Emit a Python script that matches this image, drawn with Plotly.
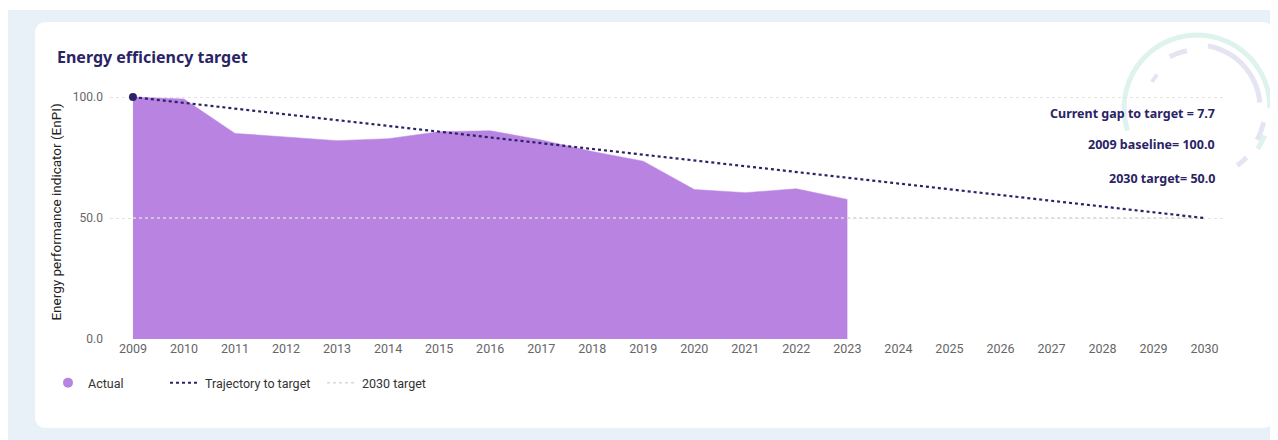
import math
import plotly.graph_objects as go

# ---------------- data ----------------
years = [2009, 2010, 2011, 2012, 2013, 2014, 2015, 2016, 2017, 2018, 2019, 2020, 2021, 2022, 2023]
actual = [100.0, 99.2, 85.0, 83.5, 82.0, 82.8, 85.7, 86.1, 82.3, 77.5, 73.5, 61.8, 60.5, 62.1, 57.7]
trajectory_years = [2009, 2030]
trajectory_values = [100.0, 50.0]
target_years = [2009, 2030]
target_values = [50.0, 50.0]
tick_years = list(range(2009, 2031))
y_ticks = [0, 50, 100]
y_tick_labels = ["0.0", "50.0", "100.0"]
notes = ["Current gap to target = 7.7", "2009 baseline= 100.0", "2030 target= 50.0"]
note_y = [93.4, 80.2, 66.5]

# ---------------- styling ----------------
W, H = 1278, 440
OFF = 8  # page body margin: figure origin sits at screen (8, 8)
ML, MR, MT, MB = 110 - OFF, W - (1226 - OFF), 85 - OFF, H - (339 - OFF)
PW, PH = W - ML - MR, H - MT - MB
PURPLE = "#b983e2"
NAVY = "#2a2366"
LIGHT = "#d9d9d9"


def px2paper(sx, sy):
    """screen pixel -> paper coords"""
    fx, fy = sx - OFF, sy - OFF
    return (fx - ML) / PW, (H - MB - fy) / PH


def P(x, y):
    a, b = px2paper(x, y)
    return f"{a:.5f},{b:.5f}"


def rect_path(x0, y0, x1, y1, r=0):
    if r == 0:
        return f"M{P(x0, y0)}L{P(x1, y0)}L{P(x1, y1)}L{P(x0, y1)}Z"
    return (f"M{P(x0 + r, y0)}L{P(x1 - r, y0)}Q{P(x1, y0)} {P(x1, y0 + r)}"
            f"L{P(x1, y1 - r)}Q{P(x1, y1)} {P(x1 - r, y1)}"
            f"L{P(x0 + r, y1)}Q{P(x0, y1)} {P(x0, y1 - r)}"
            f"L{P(x0, y0 + r)}Q{P(x0, y0)} {P(x0 + r, y0)}Z")


def arc_path(cx, cy, r, a0, a1, n=30):
    pts = []
    for i in range(n + 1):
        a = math.radians(a0 + (a1 - a0) * i / n)
        pts.append(P(cx + r * math.cos(a), cy - r * math.sin(a)))
    return "M" + "L".join(pts)


fig = go.Figure()

# Actual area
fig.add_trace(go.Scatter(
    x=years, y=actual, mode="lines", fill="tozeroy",
    line=dict(color=PURPLE, width=0.5), fillcolor=PURPLE,
    name="Actual", showlegend=False))

# 2030 target line
fig.add_trace(go.Scatter(
    x=target_years, y=target_values, mode="lines",
    line=dict(color=LIGHT, width=1.5, dash="dot"),
    name="2030 target", showlegend=False))

# Trajectory
fig.add_trace(go.Scatter(
    x=trajectory_years, y=trajectory_values, mode="lines",
    line=dict(color=NAVY, width=2.2, dash="dot"),
    name="Trajectory to target", showlegend=False))

# baseline point
fig.add_trace(go.Scatter(
    x=[years[0]], y=[actual[0]], mode="markers",
    marker=dict(color=NAVY, size=8), showlegend=False, hoverinfo="skip"))

# legend-only entries, each in its own legend so they can be placed freely
fig.add_trace(go.Scatter(x=[None], y=[None], mode="markers", legend="legend",
                         marker=dict(color=PURPLE, size=10, symbol="circle"), name="Actual"))
fig.add_trace(go.Scatter(x=[None], y=[None], mode="lines", legend="legend2",
                         line=dict(color=NAVY, width=2, dash="dot"), name="Trajectory to target"))
fig.add_trace(go.Scatter(x=[None], y=[None], mode="lines", legend="legend3",
                         line=dict(color=LIGHT, width=1.5, dash="dot"), name="2030 target"))

TEAL = "#dff3ee"
LAV = "#e4e4f2"
CX, CY = 1197, 108
shapes = [
    dict(type="path", xref="paper", yref="paper", path=rect_path(8, 10, W + 20, H + 20),
         fillcolor="#e8f1f8", line=dict(width=0), layer="below"),
    dict(type="path", xref="paper", yref="paper", path=rect_path(35, 22, 1274, 428, 12),
         fillcolor="#ffffff", line=dict(width=0), layer="below"),
    # faint watermark
    dict(type="path", xref="paper", yref="paper", path=arc_path(CX, CY, 73, 198, 0),
         line=dict(color=TEAL, width=5), layer="below"),
    dict(type="path", xref="paper", yref="paper", path=arc_path(CX, CY, 73, -22, -34),
         line=dict(color=TEAL, width=5), layer="below"),
    dict(type="path", xref="paper", yref="paper", path=arc_path(CX, CY, 63, 80, 5),
         line=dict(color=LAV, width=5), layer="below"),
    dict(type="path", xref="paper", yref="paper", path=arc_path(CX, CY, 68, -12, -28),
         line=dict(color=LAV, width=5), layer="below"),
    dict(type="path", xref="paper", yref="paper", path=arc_path(CX, CY, 70, -45, -55),
         line=dict(color=LAV, width=5), layer="below"),
    dict(type="path", xref="paper", yref="paper", path=arc_path(CX, CY, 58, 118, 100),
         line=dict(color=LAV, width=5), layer="below"),
    dict(type="path", xref="paper", yref="paper", path=arc_path(CX, CY, 52, 150, 140),
         line=dict(color=LAV, width=4), layer="below"),
]

annotations = [
    dict(text="<b>Energy efficiency target</b>", xref="paper", yref="paper",
         x=px2paper(55, 0)[0], y=px2paper(0, 57)[1], xanchor="left", yanchor="middle",
         showarrow=False, font=dict(family="Noto Sans", size=16, color=NAVY)),
]
for t, yv in zip(notes, note_y):
    annotations.append(dict(text=f"<b>{t}</b>", xref="paper", yref="y",
                            x=px2paper(1217, 0)[0], y=yv, xanchor="right", yanchor="middle",
                            showarrow=False, font=dict(family="Noto Sans", size=12.5, color=NAVY)))


def leg(sx):
    return dict(orientation="h", x=px2paper(sx, 0)[0], y=px2paper(0, 383)[1],
                xanchor="left", yanchor="middle", font=dict(size=12.5, color="#333"),
                bgcolor="rgba(0,0,0,0)", itemwidth=30)


fig.update_layout(
    width=W, height=H,
    margin=dict(l=ML, r=MR, t=MT, b=MB),
    paper_bgcolor="#ffffff", plot_bgcolor="rgba(0,0,0,0)",
    font=dict(family="Roboto", size=12, color="#444"),
    shapes=shapes, annotations=annotations,
    showlegend=True,
    legend=leg(48), legend2=leg(165), legend3=leg(322),
    xaxis=dict(range=[2008.55, 2030.42], tickmode="array", tickvals=tick_years,
               ticktext=[str(y) for y in tick_years], showgrid=False, zeroline=False,
               showline=False, tickfont=dict(size=12.5, color="#666"), fixedrange=True),
    yaxis=dict(range=[0, 105], tickmode="array", tickvals=y_ticks, ticktext=y_tick_labels,
               showgrid=True, gridcolor="#e3e3e3", griddash="dot", gridwidth=1,
               zeroline=False, showline=False, tickfont=dict(size=12, color="#666"),
               ticklabelstandoff=6,
               title=dict(text="Energy performance indicator (EnPI)",
                          font=dict(size=13.5, color="#222"), standoff=8),
               fixedrange=True),
)

fig.write_html("out.html")
